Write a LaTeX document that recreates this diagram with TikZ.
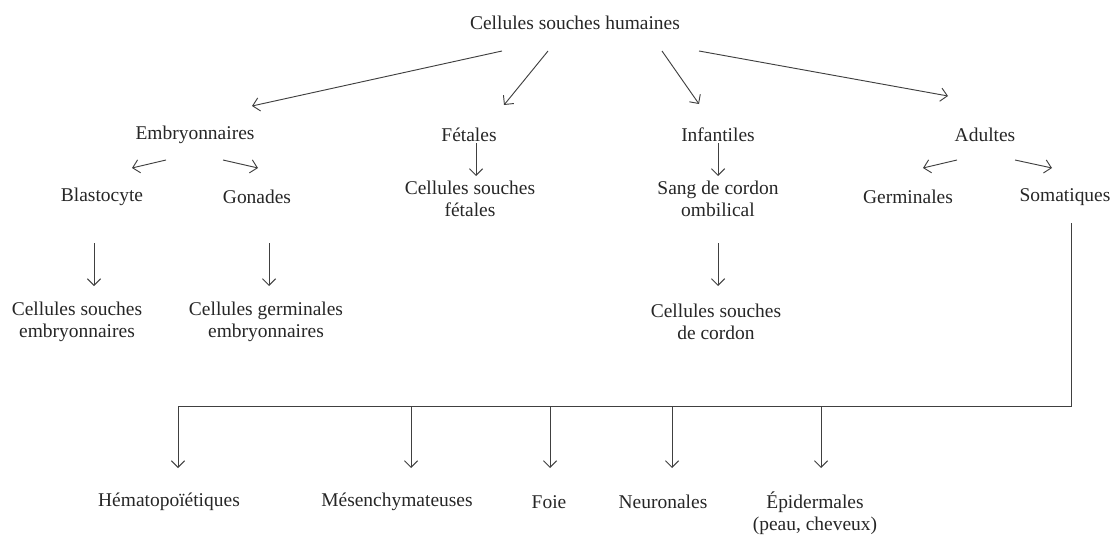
\documentclass[tikz,border=0pt]{standalone}
\usepackage{fontspec}
\setmainfont{Liberation Serif}
\usetikzlibrary{arrows.meta,calc}

\begin{document}
\begin{tikzpicture}[x=0.75pt, y=-0.75pt,
    lbl/.style={inner sep=0pt, align=center, text=black!85,
                font=\fontsize{14.6}{16.5}\selectfont},
    link/.style={draw=black!75, line width=0.7pt},
    arr/.style={link, -{Straight Barb[length=5pt, width=10pt]}}]
  \useasboundingbox (0,0) rectangle (1117,535);

  % origine
  \node[lbl] (top) at (575,23) {Cellules souches humaines};

  % quatre familles
  \node[lbl] (emb) at (195,135) {Embryonnaires};
  \node[lbl] (fet) at (469,135) {Fétales};
  \node[lbl] (inf) at (718,135) {Infantiles};
  \node[lbl] (adu) at (985,135) {Adultes};

  % second niveau
  \node[lbl] (blast) at (102,197) {Blastocyte};
  \node[lbl] (gon)   at (257,197) {Gonades};
  \node[lbl] (fcs)   at (470,199) {Cellules souches\\fétales};
  \node[lbl] (sang)  at (718,199) {Sang de cordon\\ombilical};
  \node[lbl] (germ)  at (908,197) {Germinales};
  \node[lbl] (soma)  at (1065,197) {Somatiques};

  % troisieme niveau
  \node[lbl] (ces) at (77,322)  {Cellules souches\\embryonnaires};
  \node[lbl] (cge) at (266,322) {Cellules germinales\\embryonnaires};
  \node[lbl] (ccd) at (716,322) {Cellules souches\\de cordon};

  % tissus adultes
  \node[lbl] (hem)  at (169,502) {Hématopoïétiques};
  \node[lbl] (mes)  at (397,502) {Mésenchymateuses};
  \node[lbl] (foie) at (549,502) {Foie};
  \node[lbl] (neu)  at (663,502) {Neuronales};
  \node[lbl] (epi)  at (815,513) {Épidermales\\(peau, cheveux)};

  % fleches depuis l'origine
  \draw[arr] ($(top)+(-73,28)$) -- ($(emb)+(57,-29)$);
  \draw[arr] ($(top)+(-27,28)$) -- ($(fet)+(35,-30)$);
  \draw[arr] ($(top)+(87,28)$)  -- ($(inf)+(-19,-31)$);
  \draw[arr] ($(top)+(124,28)$) -- ($(adu)+(-37,-39)$);

  \draw[arr] ($(emb)+(-29,25)$) -- ($(blast)+(30,-29)$);
  \draw[arr] ($(emb)+(28,25)$)  -- ($(gon)+(1,-29)$);
  \draw[arr] ($(fet)+(7,8)$)    -- ($(fcs)+(6,-23)$);
  \draw[arr] ($(inf)+(0,8)$)    -- ($(sang)+(0,-23)$);
  \draw[arr] ($(adu)+(-28,25)$) -- ($(germ)+(15,-29)$);
  \draw[arr] ($(adu)+(30,25)$)  -- ($(soma)+(-13,-29)$);

  \draw[arr] ($(blast)+(-8,46)$) -- ($(ces)+(17,-36)$);
  \draw[arr] ($(gon)+(12,46)$)   -- ($(cge)+(3,-36)$);
  \draw[arr] ($(sang)+(0,44)$)   -- ($(ccd)+(2,-36)$);

  % branche somatique
  \draw[arr] ($(soma)+(6,26)$) |- ($(hem)+(9,-96)$) -- ($(hem)+(9,-34)$);
  \foreach \n/\dx in {mes/14, foie/1, neu/9}
    \draw[arr] ($(\n)+(\dx,-96)$) -- ($(\n)+(\dx,-34)$);
  \draw[arr] ($(epi)+(6,-107)$) -- ($(epi)+(6,-45)$);
\end{tikzpicture}
\end{document}
